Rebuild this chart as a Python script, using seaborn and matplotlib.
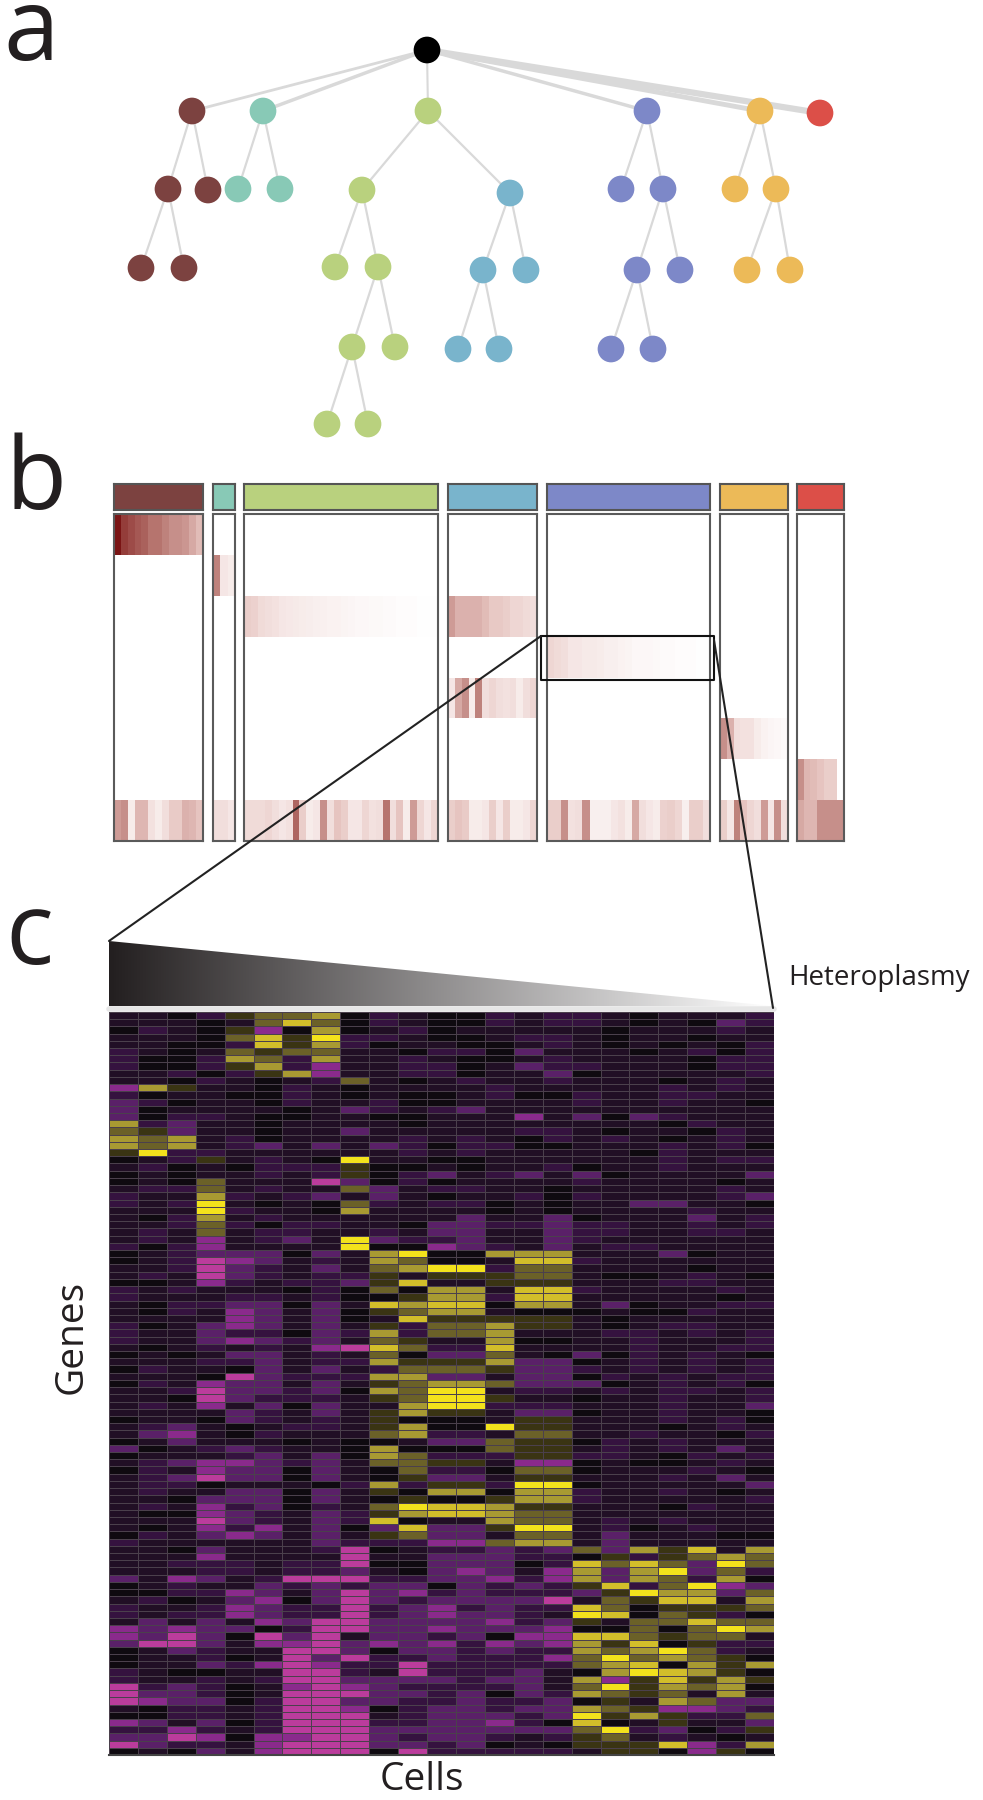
import numpy as np
import pandas as pd
import seaborn as sns
import matplotlib
matplotlib.use("Agg")
import matplotlib.pyplot as plt
from matplotlib.colors import ListedColormap, LinearSegmentedColormap
from matplotlib.patches import Polygon

sns.set_theme(style="white")
plt.rcParams['font.family'] = ['Open Sans', 'DejaVu Sans']

W, H = 983, 1800

# ---------- panel a: clone tree ----------
node_x = [427, 192, 263, 428, 647, 760, 820,
          168, 208, 238, 280, 362, 510, 621, 663, 735, 776,
          141, 184, 335, 378, 483, 526, 637, 680, 747, 790,
          352, 395, 458, 499, 611, 653,
          327, 368]
node_y = [50, 111, 111, 111, 111, 111, 113,
          189, 190, 189, 189, 190, 193, 189, 189, 189, 189,
          268, 268, 267, 267, 270, 270, 270, 270, 270, 270,
          347, 347, 349, 349, 349, 349,
          424, 424]
node_clone = ['root', 'brown', 'teal', 'green', 'blue', 'orange', 'red',
              'brown', 'brown', 'teal', 'teal', 'green', 'lblue', 'blue', 'blue', 'orange', 'orange',
              'brown', 'brown', 'green', 'green', 'lblue', 'lblue', 'blue', 'blue', 'orange', 'orange',
              'green', 'green', 'lblue', 'lblue', 'blue', 'blue',
              'green', 'green']
edge_from = [0, 0, 0, 0, 0, 0, 1, 1, 7, 7, 2, 2, 3, 3, 11, 11, 20, 20, 27, 27, 12, 12, 21, 21, 4, 4, 14, 14, 23, 23, 5, 5, 16, 16]
edge_to = [1, 2, 3, 4, 5, 6, 7, 8, 17, 18, 9, 10, 11, 12, 19, 20, 27, 28, 33, 34, 21, 22, 29, 30, 13, 14, 23, 24, 31, 32, 15, 16, 25, 26]
edge_w = [2.0, 2.5, 1.5, 2.5, 3.5, 4.5] + [1.6] * 28

clone_colors = {'root': '#000000', 'brown': '#7c4240', 'teal': '#88c9b6', 'green': '#b9d17e',
                'lblue': '#79b4cc', 'blue': '#7d88c8', 'orange': '#ecba58', 'red': '#dc4f48'}

# ---------- panel b: clone x mutation blocks ----------
bar_left = [114, 213, 244, 448, 547, 720, 797]
bar_right = [203, 235, 438, 537, 710, 788, 844]
bar_clone = ['brown', 'teal', 'green', 'lblue', 'blue', 'orange', 'red']

brown_own = [1.0, .85, .8, .75, .72, .65, .65, .6, .55, .55, .52, .45, .38]
brown_all = [.5, .55, .12, .4, .4, .18, .12, .2, .32, .32, .42, .4, .35]
teal_own = [.6, .15, .12]
teal_all = [.2, .2, .15]
green_own = [.3, .28, .22, .2, .18, .15, .14, .13, .12, .11, .1, .09, .08, .08,
             .07, .06, .05, .05, .04, .04, .03, .03, .02, .02, .02, .01, .01, .01]
green_all = [.22, .22, .22, .25, .2, .15, .18, .7, .3, .12, .15, .55, .2, .35,
             .3, .15, .15, .25, .18, .2, .65, .2, .35, .12, .5, .25, .15, .25]
lblue_own = [.5, .42, .42, .42, .42, .38, .33, .33, .3, .25, .25, .22, .2]
lblue_sub = [.15, .45, .55, .12, .6, .2, .25, .2, .18, .2, .12, .2, .25]
lblue_all = [.3, .35, .32, .12, .12, .15, .3, .15, .3, .12, .12, .15, .25]
blue_own = [.25, .22, .2, .15, .15, .13, .13, .12, .1, .1, .08, .07, .05, .05, .05,
            .04, .03, .03, .02, .02, .02, .01, .01]
blue_all = [.3, .3, .55, .18, .2, .55, .1, .1, .1, .15, .18, .12, .45, .2, .15,
            .12, .28, .3, .25, .1, .3, .3, .2]
orange_own = [.55, .42, .2, .18, .18, .12, .08, .06, .05, .03]
orange_all = [.3, .15, .6, .35, .25, .2, .5, .15, .55, .2]
red_own = [.55, .4, .38, .35, .3, .3, 0]
red_all = [.45, .4, .4, .55, .55, .55, .55]

mutation_rows = {'brown': {0: brown_own, 7: brown_all},
                 'teal': {1: teal_own, 7: teal_all},
                 'green': {2: green_own, 7: green_all},
                 'lblue': {2: lblue_own, 4: lblue_sub, 7: lblue_all},
                 'blue': {3: blue_own, 7: blue_all},
                 'orange': {5: orange_own, 7: orange_all},
                 'red': {6: red_own, 7: red_all}}

# ---------- panel c: expression heatmap ----------
heat_top = [
 "1102abbc0 2100212 2101112", "11101bdb0 2100212 2101032", "0210a40c0 1201111 1011121",
 "1110bdae2 2100122 1011011", "11002dac2 0110012 1010102", "2101babb1 1022031 1101202",
 "2002cb2c1 1210012 1111022", "2002ac241 1220132 2111022", "11202ac41 1220113 0111112",
 "11021012b 1012112 1110121", "4ca110210 1111211 1112121", "201100210 1001200 2112211",
 "320110211 2001111 2112110", "301111013 2123111 1111111", "302210011 0011141 3032111",
 "c23110111 1011111 1110211", "ba3110113 1111122 1011021", "cbc120111 1212102 1210121",
 "cbc123131 3202200 1112120", "ae2211111 1212111 1102111", "012a1210e 1100111 1112122",
 "12010222a 0010112 0112111", "01011212a 0231231 3011113", "010b11153 0201111 2111101",
 "122b1211b 3122110 1111121", "211c21231 3101120 2111123", "212e1010b 2122010 1133110",
 "111e2110c 1111010 1111211", "102c12111 1113113 0111312", "112b20221 1033223 2211212",
 "121b12211 2133113 2211221", "12141231e 3223113 2111111", "20241111e 0043213 1221111",
]
heat_mid = [
 "012333031 ce00ccc 1113011", "012543121 cb001dd 2111111", "112532131 bcee2bb 1111011",
 "121532122 a1aaabb 1001210", "001421223 ad11aaa 1112211", "212111020 b0cc1dd 2111121",
 "211122120 0acc2dd 1111101", "102233031 dcdd0cc 1301122", "102143130 abcc100 0100211",
 "111143130 1daaaaa 1011111", "201343131 a2bbcaa 1012211", "211322032 c2bbc11 1221212",
 "211343231 ba11c00 1121112", "101212145 db22d11 1121122", "010133121 b033b10 3021210",
 "111223122 caaac33 0121212", "021103131 2bbba33 2121212", "111053222 cc33133 0212122",
 "021433131 abccb33 3012120", "112533230 cbee122 1212212", "110532221 abeea11 0112112",
 "121413031 1cee222 1112113", "111132131 acaa133 0112110", "011032121 a0001aa 1112120",
 "123101221 ac00eaa 1110121", "134102111 bc221bb 1121102", "013111010 0133baa 0212111",
 "301232110 c000baa 1212131", "011123130 cb222aa 2210212", "123443231 bbaa144 0100121",
 "021433031 0b220bb 0111210", "123533031 0a331aa 1112131", "122011102 c2aa2ee 0111113",
 "121133031 a0cc0cc 2112101", "110333031 0a00acc 2111112", "121423021 beddcaa 1110211",
 "100432132 acddcbb 1111111", "111532132 d011cbb 1212111", "101424130 3d33aee 1201211",
 "021343131 ab331bb 1311100", "211111132 2244bcc 1311111",
]
heat_bot = [
 "110311125 0122323 b3cad1c", "111411115 1133322 0a2abcb", "112221225 0033302 dbdb3eb",
 "111221223 1034314 c3ce3b2", "314312555 2233424 c3cb2c0", "012113232 3303232 ad2be43",
 "002243135 3423222 3aecc3b", "120134035 3233335 1badd1c", "211243225 2342322 db0aaab",
 "212243225 2343321 ed0ba20", "131314355 3333423 a1bbdbb", "434330255 3343334 00b0bec",
 "435305351 3323044 ddbabb1", "355314453 4342434 cad0a22", "013211553 0332322 cbceb21",
 "011201535 2232224 bebcba0", "011324542 2522222 bcd0cac", "210011552 1522231 0cedca0",
 "211212553 3332331 c4adaca", "523201454 3222231 beacbc0", "533201555 3323032 cbab1c1",
 "543302553 3223223 0a1cb33", "102212554 0233233 cba4432", "002212555 1233323 eaca22b",
 "431302555 2233420 d01a113", "224212555 3333333 be2302a", "335404455 3233212 ab12101",
 "532214555 3323010 aaad42c", "010314555 0522222 1aa04a0",
]
level_order = "012345abcde"
level_colors = ['#0f0a10', '#210f25', '#35123f', '#5a2068', '#8a2a8c', '#bb3c9c',
                '#3a3413', '#6b6128', '#a89a32', '#d2be2a', '#f3e21c']

heat_rows = heat_top + heat_mid + heat_bot
heat_matrix = pd.DataFrame([[level_order.index(ch) for ch in row.replace(" ", "")] for row in heat_rows])

label_fill = '#231f20'

fig = plt.figure(figsize=(W / 100, H / 100), dpi=100)
fig.patch.set_facecolor('white')


def px_axes(x0, y0, x1, y1, **kw):
    return fig.add_axes([x0 / W, 1 - y1 / H, (x1 - x0) / W, (y1 - y0) / H], **kw)


# panel b heat blocks
red_cmap = LinearSegmentedColormap.from_list('wr', ['#ffffff', '#e8c8c4', '#b4706a', '#7a1414'])
BOX_TOP, BOX_BOTTOM = 514, 841
for left, right, clone in zip(bar_left, bar_right, bar_clone):
    rows = mutation_rows[clone]
    n_cells = len(next(iter(rows.values())))
    block = np.zeros((8, n_cells))
    for r, vals in rows.items():
        block[r] = vals
    ax = px_axes(left, BOX_TOP, right, BOX_BOTTOM)
    sns.heatmap(block, ax=ax, cmap=red_cmap, vmin=0, vmax=1, cbar=False,
                xticklabels=False, yticklabels=False)
    for s in ax.spines.values():
        s.set_visible(True)
        s.set_color('#5a5a5a')
        s.set_linewidth(1.5)
    # clone color strip
    ax2 = px_axes(left, 484, right, 510)
    ax2.set_facecolor(clone_colors[clone])
    ax2.set_xticks([])
    ax2.set_yticks([])
    for s in ax2.spines.values():
        s.set_visible(True)
        s.set_color('#555555')
        s.set_linewidth(1.5)

# panel c heatmap
ax_h = px_axes(109, 1012, 774, 1755)
sns.heatmap(heat_matrix, ax=ax_h, cmap=ListedColormap(level_colors), vmin=-0.5, vmax=10.5, cbar=False,
            xticklabels=False, yticklabels=False, linewidths=0.4, linecolor='#4b404c')
ax_h.spines['bottom'].set_visible(True)
ax_h.spines['bottom'].set_color('#444444')
ax_h.spines['bottom'].set_linewidth(1.5)

# overlay in picture coordinates
ov = fig.add_axes([0, 0, 1, 1], facecolor='none')
ov.set_xlim(0, W)
ov.set_ylim(H, 0)
ov.axis('off')

# tree
for a, b, w in zip(edge_from, edge_to, edge_w):
    ov.plot([node_x[a], node_x[b]], [node_y[a], node_y[b]], color='#d9d9d9', lw=w, zorder=1, solid_capstyle='round')
tree = pd.DataFrame({'x': node_x, 'y': node_y, 'clone': node_clone})
sns.scatterplot(data=tree, x='x', y='y', hue='clone', palette=clone_colors, s=370, linewidth=0,
                legend=False, ax=ov, zorder=3)
ov.set_xlim(0, W)
ov.set_ylim(H, 0)
ov.axis('off')

# zoom box + connectors
ov.plot([541, 714, 714, 541, 541], [636, 636, 680, 680, 636], color='#111111', lw=1.5, zorder=4)
ov.plot([541, 109], [636, 941], color='#222222', lw=1.5, zorder=4)
ov.plot([714, 773], [640, 1008], color='#222222', lw=1.5, zorder=4)

# heteroplasmy wedge
grad_cmap = LinearSegmentedColormap.from_list('kw', ['#231f20', '#ffffff'])
im = ov.imshow(np.linspace(0, 1, 256)[None, :], extent=[109, 773, 1006, 941], cmap=grad_cmap, aspect='auto', zorder=2)
im.set_clip_path(Polygon([[109, 941], [109, 1006], [773, 1006]], closed=True, transform=ov.transData))
ov.plot([109, 774], [1009, 1009], color='#e6e6e6', lw=4, zorder=2)
ov.set_xlim(0, W)
ov.set_ylim(H, 0)

# text
ov.text(3, 60, 'a', fontsize=72, color=label_fill, va='baseline', ha='left')
ov.text(5, 509, 'b', fontsize=72, color=label_fill, va='baseline', ha='left')
ov.text(5, 964, 'c', fontsize=72, color=label_fill, va='baseline', ha='left')
ov.text(788, 978, 'Heteroplasmy', fontsize=20, color=label_fill, va='center', ha='left')
ov.text(72, 1337, 'Genes', fontsize=28, color=label_fill, rotation=90, va='center', ha='center')
ov.text(422, 1780, 'Cells', fontsize=28, color=label_fill, va='center', ha='center')

fig.savefig('out.png', dpi=100, facecolor='white')
